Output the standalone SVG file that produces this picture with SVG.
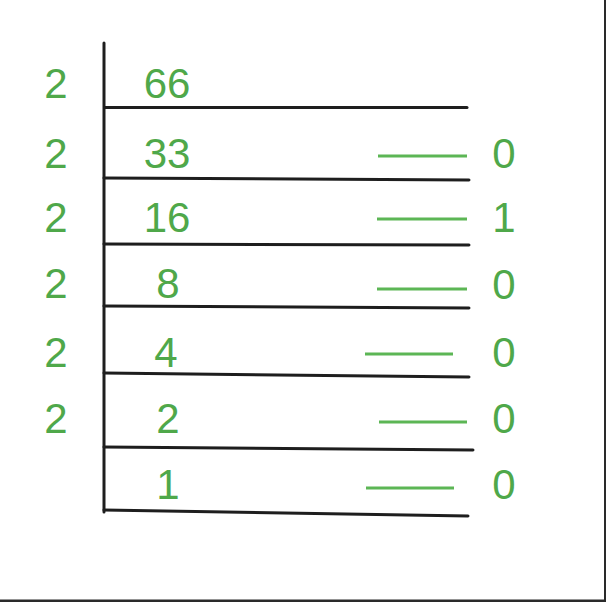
<svg xmlns="http://www.w3.org/2000/svg" width="606" height="602" viewBox="0 0 606 602">
<style>
.k{stroke:#1e1e1e;stroke-width:3;stroke-linecap:round;fill:none}
.g{stroke:#5cb655;stroke-width:3;fill:none}
text{font-family:"Liberation Sans",Arial,sans-serif;font-size:42px;fill:#4fa84a}
.m{text-anchor:middle}
</style>
<rect width="606" height="602" fill="#fff"/>
<rect x="604" y="0" width="2" height="602" fill="#2a2a2a"/>
<rect x="0" y="599.5" width="606" height="2.5" fill="#2a2a2a"/>
<g id="connectors">
<path class="k" d="M104 43 V512"/>
<path class="k" d="M105 107.5 L467 107.5"/>
<path class="k" d="M104 178 L469 180"/>
<path class="k" d="M104 244 L469 245"/>
<path class="k" d="M104 306 L469 308"/>
<path class="k" d="M104 373 L469 377"/>
<path class="k" d="M104 447 L473 450"/>
<path class="k" d="M104 510 L468 516"/>
<path class="g" d="M378 156 H467"/>
<path class="g" d="M377 219 H467"/>
<path class="g" d="M377 289 H467"/>
<path class="g" d="M365 354 H453"/>
<path class="g" d="M379 422 H467"/>
<path class="g" d="M366 488 H454"/>
</g>
<g id="divisors">
<text x="56" y="98" class="m">2</text>
<text x="56" y="168" class="m">2</text>
<text x="56" y="232" class="m">2</text>
<text x="56" y="298" class="m">2</text>
<text x="56" y="367" class="m">2</text>
<text x="56" y="433" class="m">2</text>
</g>
<g id="quotients">
<text x="167" y="98" class="m">66</text>
<text x="167" y="168" class="m">33</text>
<text x="167" y="232" class="m">16</text>
<text x="168" y="298" class="m">8</text>
<text x="166" y="367" class="m">4</text>
<text x="168" y="433" class="m">2</text>
<text x="168" y="499" class="m">1</text>
</g>
<g id="remainders">
<text x="504" y="168" class="m">0</text>
<text x="504" y="232" class="m">1</text>
<text x="504" y="299" class="m">0</text>
<text x="504" y="367" class="m">0</text>
<text x="504" y="433" class="m">0</text>
<text x="504" y="499" class="m">0</text>
</g>
</svg>
